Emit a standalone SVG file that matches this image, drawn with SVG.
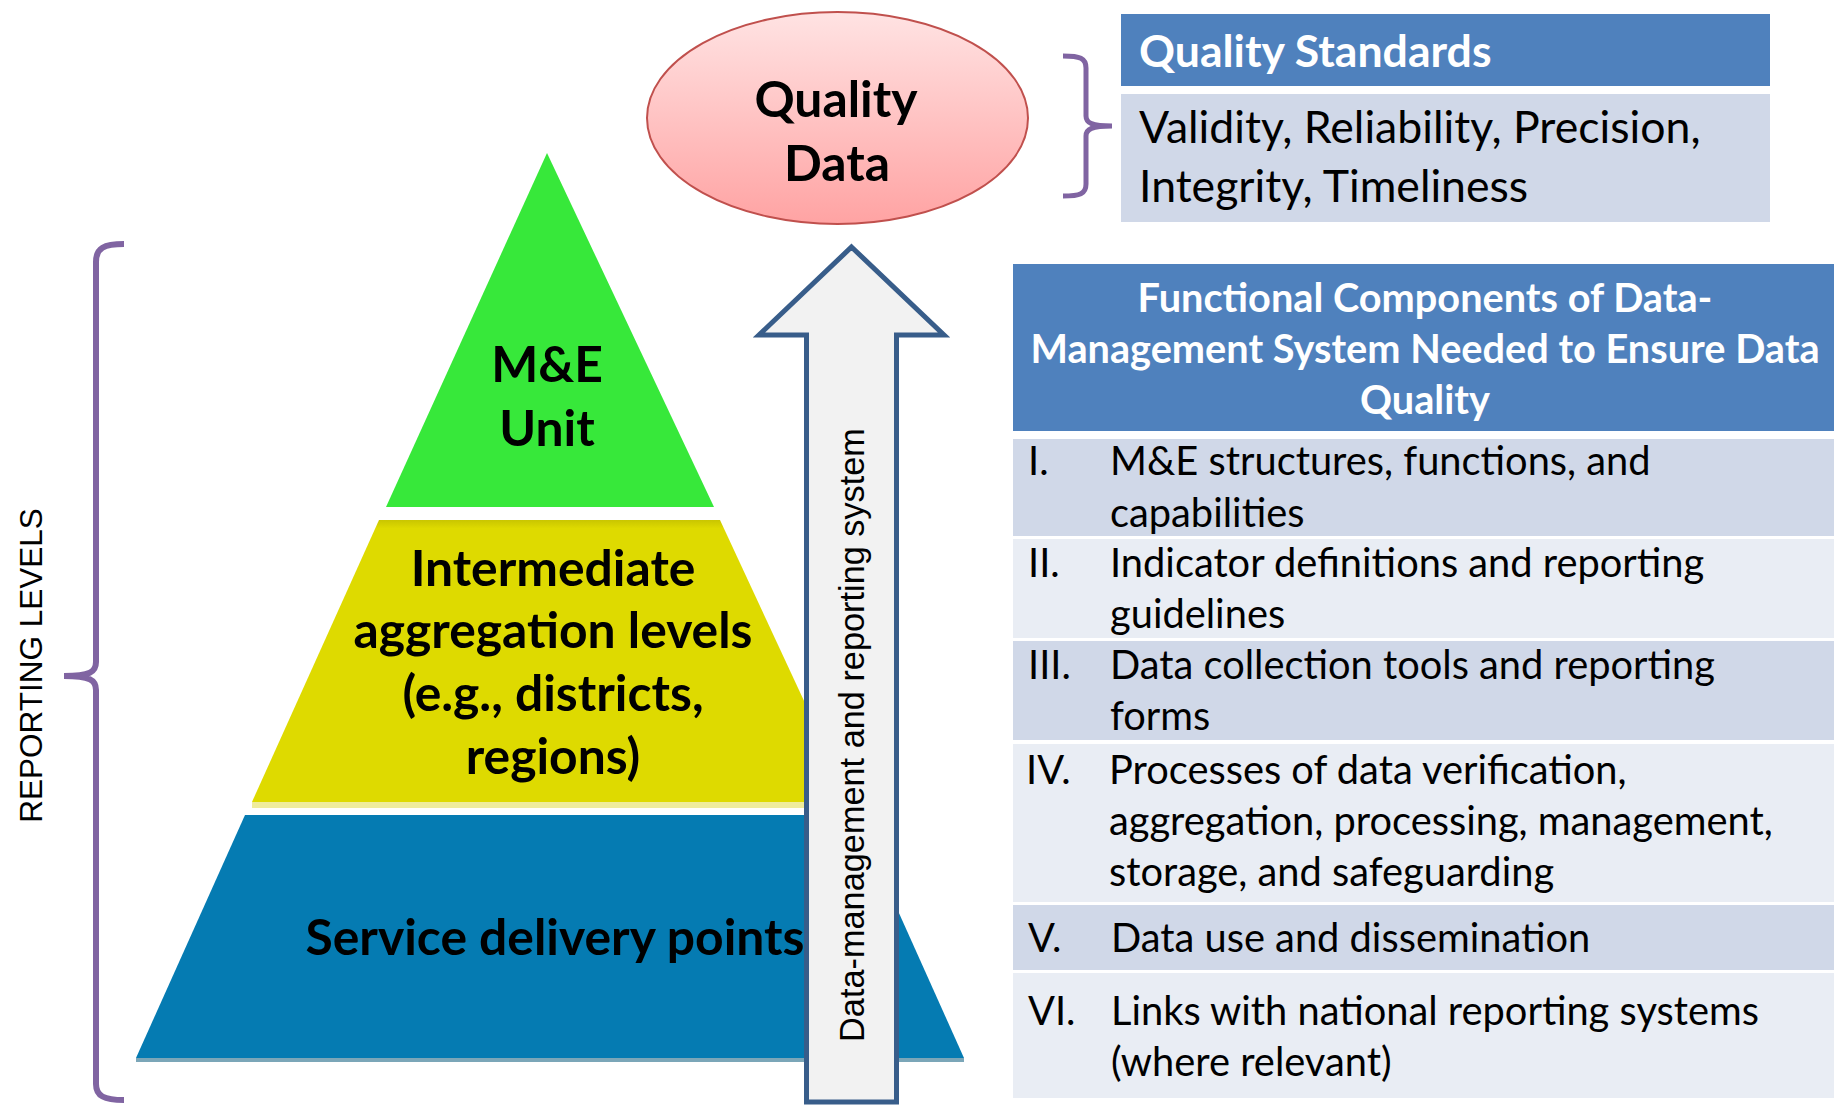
<svg xmlns="http://www.w3.org/2000/svg" width="1834" height="1106" viewBox="0 0 1834 1106">
<defs>
<linearGradient id="gEll" x1="0" y1="0" x2="0" y2="1">
<stop offset="0" stop-color="#FFE3E3"/>
<stop offset="1" stop-color="#FFA3A3"/>
</linearGradient>
<linearGradient id="gYel" x1="0" y1="0" x2="0" y2="1">
<stop offset="0" stop-color="#C9C500"/>
<stop offset="0.03" stop-color="#DEDA00"/>
<stop offset="1" stop-color="#DEDA00"/>
</linearGradient>
<style>
.cal{font-family:Lato,"Open Sans","Liberation Sans",sans-serif;}
.b{font-weight:bold;}
.big{font-size:49.8px;}
.blk{fill:#000;}
.wht{fill:#fff;}
.ari{font-family:"Liberation Sans",Arial,sans-serif;fill:#000;}
.brace{fill:none;stroke:#8064A2;stroke-width:6;}
.row{font-size:39.8px;}
.hd{font-size:39.7px;}
.qs{font-size:44.6px;}
.dark{fill:#D0D8E8;}
.light{fill:#E9EDF4;}
.hdr{fill:#4F81BD;}
</style>
</defs>
<rect width="1834" height="1106" fill="#fff"/>

<g id="reporting-levels">
<path class="brace" d="M124,244 C104,244 96,248 96,262 L96,662 C96,672 90,676 64,676 C90,676 96,680 96,690 L96,1084 C96,1096 104,1100 124,1100"/>
<text class="ari" font-size="31.5" text-anchor="middle" transform="translate(42,665.5) rotate(-90)">REPORTING LEVELS</text>
</g>

<g id="pyramid-me-unit">
<polygon points="547,153 714,507 386,507" fill="#37E83A"/>
<text class="cal b big blk" text-anchor="middle" x="547" y="382">M&amp;E</text>
<text class="cal b big blk" text-anchor="middle" x="547" y="446">Unit</text>
</g>

<g id="pyramid-intermediate">
<polygon points="379,520 720,520 851,802 252,802" fill="url(#gYel)"/>
<rect x="252" y="802" width="560" height="6" fill="#EFEC9C"/>
<text class="cal b big blk" text-anchor="middle" x="553" y="586">Intermediate</text>
<text class="cal b big blk" text-anchor="middle" x="553" y="648">aggregation levels</text>
<text class="cal b big blk" text-anchor="middle" x="553" y="711">(e.g., districts,</text>
<text class="cal b big blk" text-anchor="middle" x="553" y="774">regions)</text>
</g>

<g id="pyramid-service">
<polygon points="245,815 855,815 964,1058 136,1058" fill="#057BB2"/>
<rect x="136" y="1058" width="828" height="4" fill="#7BA6B8"/>
<text class="cal b big blk" text-anchor="middle" x="555" y="955">Service delivery points</text>
</g>

<g id="connectors">
<path d="M851.5,247 L944,335 L896.5,335 L896.5,1102 L806.5,1102 L806.5,335 L759,335 Z" fill="#F2F2F2" stroke="#385D8A" stroke-width="5" stroke-linejoin="miter"/>
<text class="ari" font-size="34.3" text-anchor="middle" transform="translate(864,735) rotate(-90)">Data-management and reporting system</text>
</g>

<g id="quality-data">
<ellipse cx="837.5" cy="118" rx="190.5" ry="106" fill="url(#gEll)" stroke="#C0504D" stroke-width="2"/>
<text class="cal b big blk" text-anchor="middle" x="836" y="117">Quality</text>
<text class="cal b big blk" text-anchor="middle" x="837" y="181">Data</text>
</g>

<g id="quality-standards">
<path class="brace" style="stroke-width:5" d="M1063,56 C1080,56 1086,58 1086,68 L1086,116 C1086,123 1092,126 1112,126 C1092,126 1086,129 1086,136 L1086,184 C1086,194 1080,196 1063,196"/>
<rect class="hdr" x="1121" y="14" width="649" height="72"/>
<rect class="dark" x="1121" y="94" width="649" height="128"/>
<text class="cal b wht qs" x="1139" y="67">Quality Standards</text>
<text class="cal blk qs" x="1139" y="143">Validity, Reliability, Precision,</text>
<text class="cal blk qs" x="1139" y="202">Integrity, Timeliness</text>
</g>

<g id="functional-components">
<rect class="hdr" x="1013" y="264" width="821" height="167"/>
<text class="cal b wht hd" text-anchor="middle" x="1425" y="312">Functional Components of Data-</text>
<text class="cal b wht hd" text-anchor="middle" x="1425" y="363">Management System Needed to Ensure Data</text>
<text class="cal b wht hd" text-anchor="middle" x="1425" y="414">Quality</text>
</g>

<g id="row-1">
<rect class="dark" x="1013" y="439" width="821" height="97"/>
<text class="cal blk row" x="1028" y="475">I.</text>
<text class="cal blk row" x="1110" y="475">M&amp;E structures, functions, and</text>
<text class="cal blk row" x="1110" y="527">capabilities</text>
</g>

<g id="row-2">
<rect class="light" x="1013" y="539" width="821" height="99"/>
<text class="cal blk row" x="1028" y="577">II.</text>
<text class="cal blk row" x="1110" y="577">Indicator definitions and reporting</text>
<text class="cal blk row" x="1110" y="628">guidelines</text>
</g>

<g id="row-3">
<rect class="dark" x="1013" y="641" width="821" height="99"/>
<text class="cal blk row" x="1028" y="679">III.</text>
<text class="cal blk row" x="1110" y="679">Data collection tools and reporting</text>
<text class="cal blk row" x="1110" y="730">forms</text>
</g>

<g id="row-4">
<rect class="light" x="1013" y="744" width="821" height="158"/>
<text class="cal blk row" x="1026" y="784">IV.</text>
<text class="cal blk row" x="1109" y="784">Processes of data verification,</text>
<text class="cal blk row" x="1109" y="835">aggregation, processing, management,</text>
<text class="cal blk row" x="1109" y="886">storage, and safeguarding</text>
</g>

<g id="row-5">
<rect class="dark" x="1013" y="905" width="821" height="65"/>
<text class="cal blk row" x="1028" y="952">V.</text>
<text class="cal blk row" x="1111" y="952">Data use and dissemination</text>
</g>

<g id="row-6">
<rect class="light" x="1013" y="973" width="821" height="125"/>
<text class="cal blk row" x="1028" y="1025">VI.</text>
<text class="cal blk row" x="1111" y="1025">Links with national reporting systems</text>
<text class="cal blk row" x="1111" y="1076">(where relevant)</text>
</g>
</svg>
